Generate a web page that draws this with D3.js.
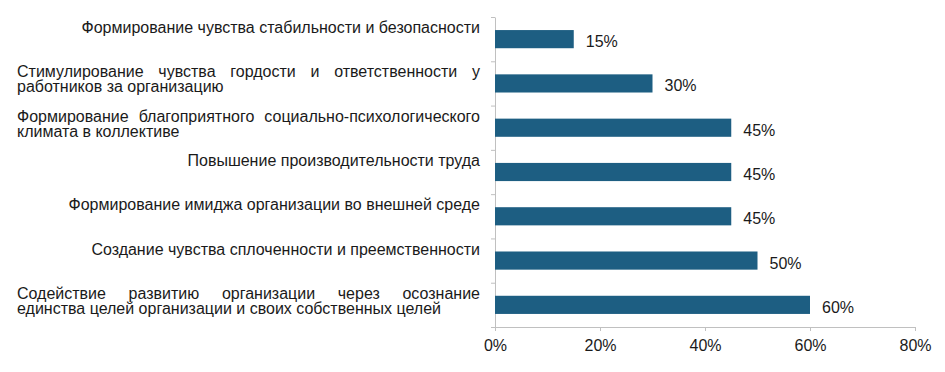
<!DOCTYPE html>
<html>
<head>
<meta charset="utf-8">
<script src="https://cdn.jsdelivr.net/npm/d3@7"></script>
<style>
  body { margin: 0; background: #fff; }
  svg text { font-family: "Liberation Sans", Arial, sans-serif; fill: #1a1a1a; }
</style>
</head>
<body>
<div id="chart"></div>
<script>
// categories, top to bottom; each one is a list of the lines it wraps to
var categories = [
  ["Формирование чувства стабильности и безопасности"],
  ["Стимулирование чувства гордости и ответственности у", "работников за организацию"],
  ["Формирование благоприятного социально-психологического", "климата в коллективе"],
  ["Повышение производительности труда"],
  ["Формирование имиджа организации во внешней среде"],
  ["Создание чувства сплоченности и преемственности"],
  ["Содействие развитию организации через осознание", "единства целей организации и своих собственных целей"]
];
var values = [0.15, 0.30, 0.45, 0.45, 0.45, 0.50, 0.60];
var xTicks = [0, 0.2, 0.4, 0.6, 0.8];

var width = 945;
var height = 372;
var margin = {top: 17, right: 30, bottom: 45, left: 495};
var labelLeft = 17, labelRight = 480;

var svg = d3.select("#chart").append("svg")
    .attr("width", width)
    .attr("height", height);

var x = d3.scaleLinear().domain([0, 0.8]).range([margin.left, 915]);
var y = d3.scaleBand().domain(d3.range(categories.length))
    .range([margin.top, height - margin.bottom])
    .paddingInner(0.59).paddingOuter(0.295);
// ticks of the category axis sit between the categories
var yEdge = d3.scaleLinear().domain([0, categories.length])
    .range([margin.top, height - margin.bottom]);

// axes
var gx = svg.append("g")
    .attr("transform", "translate(0," + (height - margin.bottom) + ")")
    .call(d3.axisBottom(x).tickValues(xTicks).tickFormat(d3.format(".0%"))
      .tickSize(4).tickSizeOuter(0).tickPadding(9));
gx.selectAll("text").style("font-size", "16px").attr("fill", "#1a1a1a");

var gy = svg.append("g")
    .attr("transform", "translate(" + margin.left + ",0)")
    .call(d3.axisLeft(yEdge).tickValues(d3.range(categories.length + 1))
      .tickFormat("").tickSize(4).tickSizeOuter(0));

svg.selectAll(".domain, .tick line").attr("stroke", "#c0c0c0");

// bars
svg.append("g").selectAll("rect")
    .data(values)
  .enter().append("rect")
    .attr("x", x(0))
    .attr("y", function(d, i) { return y(i); })
    .attr("width", function(d) { return x(d) - x(0); })
    .attr("height", y.bandwidth())
    .attr("fill", "#1d5e82");

// value labels
svg.append("g").selectAll("text")
    .data(values)
  .enter().append("text")
    .attr("x", function(d) { return x(d) + 12; })
    .attr("y", function(d, i) { return y(i) + y.bandwidth() / 2 + 8; })
    .style("font-size", "16px")
    .text(function(d) { return d3.format(".0%")(d); });

// category labels: single lines right-aligned, wrapped lines justified
var labels = svg.append("g").style("font-size", "16px");
categories.forEach(function(lines, i) {
  var c = y(i) + y.bandwidth() / 2;
  lines.forEach(function(line, j) {
    var base = c - 6 + j * 15;
    if (lines.length == 1) {
      labels.append("text").attr("x", labelRight).attr("y", base)
        .attr("text-anchor", "end").text(line);
    } else if (j == lines.length - 1) {
      labels.append("text").attr("x", labelLeft).attr("y", base).text(line);
    } else {
      var words = line.split(" ");
      var nodes = words.map(function(w) {
        return labels.append("text").attr("y", base).text(w);
      });
      var widths = nodes.map(function(n) { return n.node().getComputedTextLength(); });
      var gap = (labelRight - labelLeft - d3.sum(widths)) / (words.length - 1);
      var pos = labelLeft;
      nodes.forEach(function(n, k) {
        n.attr("x", pos);
        pos += widths[k] + gap;
      });
    }
  });
});
</script>
</body>
</html>
